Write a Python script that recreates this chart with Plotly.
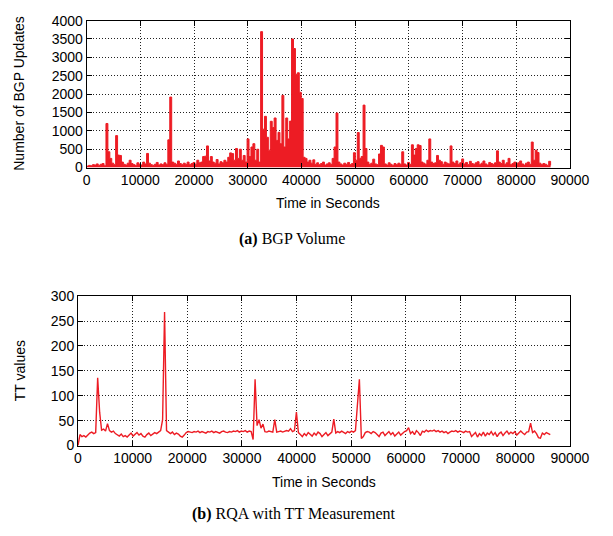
import plotly.graph_objects as go

# ---------------- data ----------------
SAMPLE_STEP_S = 360
bgp_updates = [
    40, 60, 50, 80, 70, 100, 60, 90, 110, 50,
    1200, 430, 250, 120, 80, 870, 340, 330, 150, 90,
    70, 120, 200, 110, 80, 60, 130, 90, 70, 150,
    100, 385, 120, 80, 60, 90, 140, 70, 100, 80,
    130, 90, 755, 1920, 150, 120, 90, 180, 110, 80,
    120, 90, 150, 80, 110, 140, 90, 200, 130, 150,
    300, 310, 590, 180, 300, 150, 120, 220, 100, 160,
    130, 200, 150, 280, 400, 380, 200, 520, 250, 500,
    200, 330, 150, 780, 300, 560, 650, 200, 500, 150,
    3700, 1045, 1395, 825, 475, 1260, 1090, 1350, 740, 960,
    650, 1965, 560, 1350, 780, 1265, 3500, 3240, 2540, 2580,
    2050, 1880, 280, 250, 150, 200, 120, 210, 90, 130,
    80, 110, 150, 70, 100, 130, 90, 250, 560, 1485,
    150, 100, 70, 120, 90, 140, 80, 110, 405, 200,
    955, 250, 300, 1700, 520, 150, 90, 120, 230, 100,
    80, 370, 605, 560, 100, 70, 130, 90, 60, 110,
    80, 120, 90, 430, 100, 70, 140, 90, 620, 340,
    520, 620, 600, 150, 120, 90, 200, 780, 150, 110,
    130, 330, 200, 160, 90, 150, 120, 100, 590, 150,
    110, 180, 90, 130, 235, 100, 140, 80, 170, 110,
    90, 130, 160, 80, 120, 180, 100, 70, 140, 110,
    90, 130, 455, 150, 110, 200, 90, 130, 250, 80,
    110, 150, 90, 130, 180, 100, 70, 120, 150, 90,
    695, 200, 475, 410, 120, 80, 110, 90, 60, 170,
    60,
]
tt_values = [
    0, 22, 18, 20, 17, 22, 25, 27, 24, 26,
    136, 67, 31, 33, 29, 44, 30, 27, 29, 24,
    22, 19, 23, 18, 20, 17, 21, 25, 19, 22,
    26, 21, 24, 19, 17, 22, 25, 20, 23, 26,
    24, 28, 30, 52, 268, 30, 26, 24, 27, 22,
    25, 23, 19, 17, 21, 26, 28, 27, 26, 28,
    27, 29, 26, 28, 27, 25, 28, 27, 29, 26,
    28, 27, 25, 28, 29, 27, 26, 28, 27, 29,
    28, 30, 27, 29, 28, 30, 27, 29, 28, 12,
    133, 40, 52, 35, 43, 28, 27, 29, 28, 27,
    52, 27, 28, 29, 27, 28, 30, 29, 34, 28,
    30, 67, 26, 22, 18, 24, 20, 26, 23, 19,
    25, 21, 27, 24, 18, 22, 26, 20, 24, 27,
    53, 25, 28, 26, 29, 27, 24, 28, 26, 29,
    27, 30, 90, 133, 14, 18, 26, 28, 27, 24,
    28, 26, 22, 18, 25, 27, 20, 24, 28, 22,
    26, 19, 24, 27, 21, 25, 28, 30, 36, 24,
    28, 22, 30, 26, 20, 29, 27, 31, 28, 30,
    29, 31, 28, 30, 27, 29, 26, 28, 24, 27,
    29, 28, 30, 27, 29, 28, 26, 29, 27, 28,
    18, 22, 26, 17, 24, 20, 27, 19, 25, 22,
    28, 21, 26, 18, 24, 27, 20, 25, 29, 23,
    27, 24, 28, 21, 26, 29, 25, 22, 27, 28,
    45, 26, 29, 24, 16, 15, 25, 22, 26, 24,
    22,
]
time_s = [i * SAMPLE_STEP_S for i in range(len(bgp_updates))]

x_ticks = [0, 10000, 20000, 30000, 40000, 50000, 60000, 70000, 80000, 90000]
bgp_ticks = [0, 500, 1000, 1500, 2000, 2500, 3000, 3500, 4000]
tt_ticks = [0, 50, 100, 150, 200, 250, 300]

# ---------------- figure ----------------
W, H = 613, 536
RED = "#ed1c24"
SANS = "Liberation Sans, Arial, Helvetica, sans-serif"
SERIF = "Liberation Serif, Times New Roman, serif"
FS = 14

fig = go.Figure()
fig.add_trace(go.Scatter(x=time_s, y=bgp_updates, mode="lines",
                         line=dict(color=RED, width=1, shape="hv"), fill="tozeroy",
                         fillcolor=RED, xaxis="x", yaxis="y", showlegend=False,
                         hoverinfo="skip"))
fig.add_trace(go.Scatter(x=time_s, y=tt_values, mode="lines",
                         line=dict(color=RED, width=1.4),
                         xaxis="x2", yaxis="y2", showlegend=False,
                         hoverinfo="skip"))

def px_x(p):
    return p / W

def px_y(p):
    return 1 - p / H

axis_common = dict(
    showline=True, linecolor="black", linewidth=1, mirror="ticks",
    ticks="inside", ticklen=5, tickcolor="black", tickwidth=1,
    showgrid=True, gridcolor="#222222", griddash="1px,2px", gridwidth=1,
    zeroline=False, tickformat="d", ticklabeloverflow="allow",
    tickfont=dict(family=SANS, size=FS, color="black"),
)

fig.update_layout(
    width=W, height=H,
    margin=dict(l=0, r=0, t=0, b=0),
    paper_bgcolor="white", plot_bgcolor="white",
    hovermode=False,
    xaxis=dict(domain=[px_x(86), px_x(589)], range=[0, 90000], tickvals=x_ticks,
               anchor="y", **axis_common),
    yaxis=dict(domain=[px_y(164.5), px_y(13)], range=[0, 4000], tickvals=bgp_ticks,
               anchor="x", **axis_common),
    xaxis2=dict(domain=[px_x(77), px_x(589)], range=[0, 90000], tickvals=x_ticks,
                anchor="y2", **axis_common),
    yaxis2=dict(domain=[px_y(451), px_y(297)], range=[0, 300], tickvals=tt_ticks,
                anchor="x2", **axis_common),
)

annotations = [
    dict(text="Time in Seconds", x=px_x(337.5), y=px_y(201), font=dict(family=SANS, size=FS)),
    dict(text="Time in Seconds", x=px_x(333), y=px_y(489), font=dict(family=SANS, size=FS)),
    dict(text="Number of BGP Updates", x=px_x(16), y=px_y(88), textangle=-90,
         font=dict(family=SANS, size=FS)),
    dict(text="TT values", x=px_x(16), y=px_y(374), textangle=-90,
         font=dict(family=SANS, size=FS)),
    dict(text="<b>(a)</b> BGP Volume", x=px_x(300), y=px_y(238),
         font=dict(family=SERIF, size=16)),
    dict(text="<b>(b)</b> RQA with TT Measurement", x=px_x(302), y=px_y(522),
         font=dict(family=SERIF, size=16)),
]
for a in annotations:
    a.update(xref="paper", yref="paper", showarrow=False, xanchor="center", yanchor="middle")
    a["font"]["color"] = "black"
    fig.add_annotation(**a)

# place the figure flush with the page corner (no default body margin / scrolling)
fig.write_html(
    "out.html",
    config={"displayModeBar": False, "staticPlot": True},
    post_script="document.body.style.margin='0';"
                "document.documentElement.style.overflow='hidden';",
)
